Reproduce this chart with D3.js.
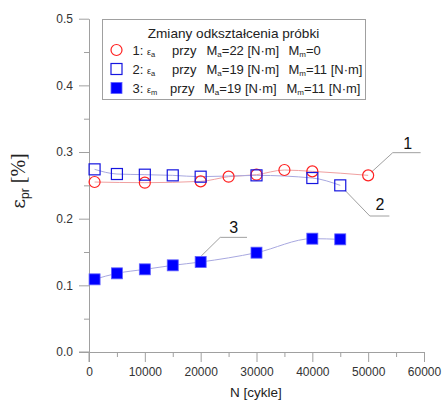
<!DOCTYPE html>
<html>
<head>
<meta charset="utf-8">
<script src="https://cdn.jsdelivr.net/npm/d3@7"></script>
<style>
  body { margin: 0; background: #fff; }
  svg text { font-family: "Liberation Sans", Arial, sans-serif; }
  .axis path, .axis line { stroke: #a0a0a0; }
  .axis text { fill: #333; font-size: 12px; }
</style>
</head>
<body>
<svg id="chart" width="444" height="403"></svg>
<script>
// series 1: eps_a, Ma=22, Mm=0
const cycles1 = [1000, 10000, 20000, 25000, 30000, 35000, 40000, 50000];
const eps1 = [0.255, 0.254, 0.256, 0.263, 0.266, 0.273, 0.271, 0.265];
// series 2: eps_a, Ma=19, Mm=11
const cycles2 = [1000, 5000, 10000, 15000, 20000, 30000, 40000, 45000];
const eps2 = [0.274, 0.267, 0.266, 0.265, 0.263, 0.265, 0.261, 0.250];
// series 3: eps_m, Ma=19, Mm=11
const cycles3 = [1000, 5000, 10000, 15000, 20000, 30000, 40000, 45000];
const eps3 = [0.109, 0.118, 0.124, 0.130, 0.135, 0.149, 0.170, 0.169];

const xTicks = [0, 10000, 20000, 30000, 40000, 50000, 60000];
const xMinor = [5000, 15000, 25000, 35000, 45000, 55000];
const yTicks = [0.0, 0.1, 0.2, 0.3, 0.4, 0.5];
const yMinor = [0.05, 0.15, 0.25, 0.35, 0.45];

// leader lines for curve numbers: [label, label pos, polyline]
const callouts = [
  { label: '1', at: [57100, 0.313], path: [[50600, 0.270], [54400, 0.299], [59400, 0.299]] },
  { label: '2', at: [52100, 0.221], path: [[45800, 0.243], [50300, 0.204], [53800, 0.204]] },
  { label: '3', at: [25900, 0.187], path: [[20100, 0.144], [23500, 0.172], [28300, 0.172]] },
];

const svg = d3.select('#chart');
const x = d3.scaleLinear().domain([0, 60000]).range([89, 424]);
const y = d3.scaleLinear().domain([0, 0.5]).range([352, 18.7]);

// axes: major ticks 10px, minor 5px, pointing outward
const gx = svg.append('g').attr('class', 'axis').attr('transform', `translate(0,${y(0)})`);
gx.call(d3.axisBottom(x).tickValues(xTicks).tickSize(10).tickSizeOuter(0).tickPadding(5).tickFormat(d3.format('d')));
gx.append('g').call(d3.axisBottom(x).tickValues(xMinor).tickSize(5).tickFormat(''))
  .select('.domain').remove();
gx.append('line').attr('x1', x(0) - 10).attr('x2', x(0)).attr('stroke', '#a0a0a0');

const gy = svg.append('g').attr('class', 'axis').attr('transform', `translate(${x(0)},0)`);
gy.call(d3.axisLeft(y).tickValues(yTicks).tickSize(10).tickSizeOuter(0).tickPadding(6).tickFormat(d3.format('.1f')));
gy.append('g').call(d3.axisLeft(y).tickValues(yMinor).tickSize(5).tickFormat(''))
  .select('.domain').remove();
gy.append('line').attr('y1', y(0)).attr('y2', y(0) + 10).attr('stroke', '#a0a0a0');

// axis titles
svg.append('text').attr('x', 256).attr('y', 397).attr('text-anchor', 'middle')
  .attr('font-size', 13.5).attr('fill', '#222').text('N [cykle]');

const yl = svg.append('text').attr('transform', 'translate(25,181) rotate(-90)')
  .attr('text-anchor', 'middle').attr('fill', '#222');
yl.append('tspan').attr('font-family', '"DejaVu Serif", serif').attr('font-size', 19).text('ε');
yl.append('tspan').attr('font-size', 12).attr('dy', 4).text('pr');
yl.append('tspan').attr('font-family', '"Liberation Serif", serif').attr('font-size', 20).attr('dy', -4).text(' [%]');

// lines
const line = d3.line().x(d => x(d[0])).y(d => y(d[1])).curve(d3.curveMonotoneX);
const series = [
  { cx: cycles1, ey: eps1, line: '#f0a0a0' },
  { cx: cycles2, ey: eps2, line: '#a8a8e0' },
  { cx: cycles3, ey: eps3, line: '#a8a8e0' },
];
series.forEach(s => {
  svg.append('path').datum(d3.zip(s.cx, s.ey)).attr('d', line)
    .attr('fill', 'none').attr('stroke', s.line).attr('stroke-width', 1);
});

// callout leaders
const straight = d3.line().x(d => x(d[0])).y(d => y(d[1]));
callouts.forEach(c => {
  svg.append('path').attr('d', straight(c.path)).attr('fill', 'none')
    .attr('stroke', '#a0a0a0').attr('stroke-width', 1);
  svg.append('text').attr('x', x(c.at[0])).attr('y', y(c.at[1])).attr('dy', '0.36em')
    .attr('text-anchor', 'middle').attr('font-size', 16).attr('fill', '#111').text(c.label);
});

// markers
svg.append('g').selectAll('circle').data(d3.zip(cycles1, eps1)).join('circle')
  .attr('cx', d => x(d[0])).attr('cy', d => y(d[1])).attr('r', 5.5)
  .attr('fill', 'none').attr('stroke', '#ff2020').attr('stroke-width', 1.2);
svg.append('g').selectAll('rect').data(d3.zip(cycles2, eps2)).join('rect')
  .attr('x', d => x(d[0]) - 5.5).attr('y', d => y(d[1]) - 5.5).attr('width', 11).attr('height', 11)
  .attr('fill', 'none').attr('stroke', '#1515e0').attr('stroke-width', 1.2);
svg.append('g').selectAll('rect').data(d3.zip(cycles3, eps3)).join('rect')
  .attr('x', d => x(d[0]) - 5.5).attr('y', d => y(d[1]) - 5.5).attr('width', 11).attr('height', 11)
  .attr('fill', '#0000ff').attr('stroke', '#6060ff').attr('stroke-width', 0.8);

// legend
const lg = svg.append('g');
lg.append('rect').attr('x', 102.5).attr('y', 19.5).attr('width', 263).attr('height', 80)
  .attr('fill', '#fff').attr('stroke', '#a0a0a0');
lg.append('text').attr('x', 233.5).attr('y', 37.5).attr('text-anchor', 'middle')
  .attr('font-size', 13.6).attr('fill', '#222').text('Zmiany odkształcenia próbki');

const legendRows = [
  { n: '1: ', sub: 'a', ma: '22 [N·m]', mm: '0' },
  { n: '2: ', sub: 'a', ma: '19 [N·m]', mm: '11 [N·m]' },
  { n: '3: ', sub: 'm', ma: '19 [N·m]', mm: '11 [N·m]' },
];
legendRows.forEach((r, i) => {
  const cy = 50 + i * 19;
  if (i === 0) {
    lg.append('circle').attr('cx', 116.5).attr('cy', cy).attr('r', 5.5)
      .attr('fill', 'none').attr('stroke', '#ff2020').attr('stroke-width', 1.2);
  } else {
    lg.append('rect').attr('x', 111).attr('y', cy - 5.5).attr('width', 11).attr('height', 11)
      .attr('fill', i === 2 ? '#0000ff' : 'none').attr('stroke', i === 2 ? '#6060ff' : '#1515e0')
      .attr('stroke-width', i === 2 ? 0.8 : 1.2);
  }
  const t = lg.append('text').attr('y', cy + 4.5).attr('font-size', 13).attr('fill', '#222');
  t.append('tspan').attr('x', 132.5).text(r.n);
  t.append('tspan').attr('font-size', 9).text('ε');
  t.append('tspan').attr('font-size', 7.5).attr('dy', 2).text(r.sub);
  t.append('tspan').attr('x', i === 2 ? 170 : 172).attr('dy', -2).text('przy');
  t.append('tspan').attr('x', i === 2 ? 204 : 206.5).text('M');
  t.append('tspan').attr('font-size', 8).attr('dy', 2).text('a');
  t.append('tspan').attr('dy', -2).text('=' + r.ma);
  t.append('tspan').attr('x', i === 2 ? 286.5 : 288.5).text('M');
  t.append('tspan').attr('font-size', 8).attr('dy', 2).text('m');
  t.append('tspan').attr('dy', -2).text('=' + r.mm);
});
</script>
</body>
</html>
